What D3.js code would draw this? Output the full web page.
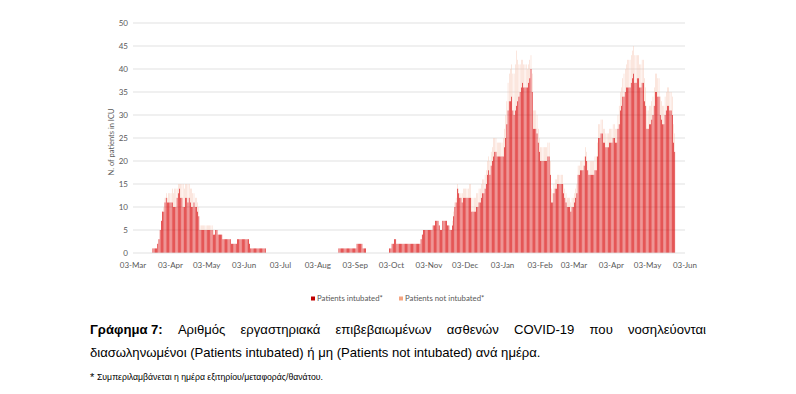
<!DOCTYPE html>
<html>
<head>
<meta charset="utf-8">
<script src="https://cdn.jsdelivr.net/npm/d3@7"></script>
<style>
  html, body { margin: 0; padding: 0; background: #ffffff; }
  svg { display: block; }
</style>
</head>
<body>
<svg id="chart" width="796" height="394"></svg>
<script>
// ---------------- DATA ----------------
const startDate = "2020-03-03";   // first day of the daily series
const endDate = "2021-06-03";     // end of the date axis
const seriesNames = ["Patients intubated*", "Patients not intubated*"];
const yTicks = [0, 5, 10, 15, 20, 25, 30, 35, 40, 45, 50];
const xTickLabels = ["03-Mar","03-Apr","03-May","03-Jun","03-Jul","03-Aug","03-Sep","03-Oct",
                     "03-Nov","03-Dec","03-Jan","03-Feb","03-Mar","03-Apr","03-May","03-Jun"];

// daily values, one per day from 03-Mar-2020
const intubated = [
  // 03-Mar .. 02-Apr 2020
  0,0,0,0,0,0,0,0,0,0, 0,0,0,0,0,0,1,1,1,1, 2,3,5,7,9,9,11,12,11,11, 11,
  // 03-Apr .. 02-May
  11,11,10,10,10,12,13,14,12,12, 10,10,12,12,11,12,11,10,10,11, 10,10,9,8,5,5,5,5,5,5,
  // 03-May .. 02-Jun
  5,5,5,5,5,4,4,5,5,4, 4,4,4,3,3,3,3,3,3,3, 2,2,2,2,2,3,3,3,3,3, 3,
  // 03-Jun .. 02-Jul
  3,3,3,3,2,1,1,1,1,1, 1,1,1,1,1,1,1,1,0,0, 0,0,0,0,0,0,0,0,0,0,
  // 03-Jul .. 02-Aug
  0,0,0,0,0,0,0,0,0,0, 0,0,0,0,0,0,0,0,0,0, 0,0,0,0,0,0,0,0,0,0, 0,
  // 03-Aug .. 02-Sep
  0,0,0,0,0,0,0,0,0,0, 0,0,0,0,0,0,0,1,1,1, 1,1,1,1,1,1,1,1,1,1, 1,
  // 03-Sep .. 02-Oct
  1,2,2,2,2,2,1,1,1,0, 0,0,0,0,0,0,0,0,0,0, 0,0,0,0,0,0,0,0,1,1,
  // 03-Oct .. 02-Nov
  2,2,3,3,2,2,2,2,2,2, 2,2,2,2,2,2,2,2,2,2, 2,2,2,2,3,4,5,5,5,5, 5,
  // 03-Nov .. 02-Dec
  5,5,5,6,6,7,7,7,6,5, 5,7,7,7,7,6,6,5,5,6, 8,10,11,14,13,12,12,11,12,12,
  // 03-Dec .. 02-Jan 2021
  12,12,12,12,12,9,9,9,9,10, 10,11,11,12,13,13,14,15,17,18, 17,19,20,21,22,22,21,21,21,21, 21,
  // 03-Jan .. 02-Feb
  21,23,25,28,31,33,33,34,31,30, 31,32,33,34,35,36,37,36,36,36, 36,37,38,40,35,27,27,27,26,24, 22,
  // 03-Feb .. 02-Mar
  20,20,20,20,20,20,21,21,17,11, 11,13,14,14,15,15,15,15,15,13, 12,11,10,10,10,9,10,10,
  // 03-Mar .. 02-Apr
  11,12,13,17,17,18,18,18,19,21, 20,18,17,17,17,17,17,18,18,21, 25,25,26,26,24,24,23,23,23,24, 24,
  // 03-Apr .. 02-May
  24,25,25,24,24,27,28,31,32,34, 34,35,36,36,36,36,37,38,39,37, 37,38,38,36,36,37,37,33,32,27,
  // 03-May .. 26-May
  27,28,28,29,30,32,35,35,34,34, 30,29,28,28,30,31,32,32,31,31, 30,24,22
];

const notIntubated = [
  // 03-Mar .. 02-Apr 2020
  0,0,0,0,0,0,0,0,0,0, 0,0,0,0,0,0,0,0,0,0, 0,0,0,0,0,1,1,1,1,2, 2,
  // 03-Apr .. 02-May
  2,3,3,4,4,2,2,1,3,3, 5,4,3,3,4,3,3,4,3,2, 2,2,2,2,1,1,1,1,1,1,
  // 03-May .. 02-Jun
  1,1,1,1,1,1,0,0,0,0, 0,0,0,0,0,0,0,0,0,0, 0,0,0,0,0,0,0,0,0,0, 0,
  // 03-Jun .. 02-Jul
  0,0,0,0,0,0,0,0,0,0, 0,0,0,0,0,0,0,0,0,0, 0,0,0,0,0,0,0,0,0,0,
  // 03-Jul .. 02-Aug
  0,0,0,0,0,0,0,0,0,0, 0,0,0,0,0,0,0,0,0,0, 0,0,0,0,0,0,0,0,0,0, 0,
  // 03-Aug .. 02-Sep
  0,0,0,0,0,0,0,0,0,0, 0,0,0,0,0,0,0,0,0,0, 0,0,0,0,0,0,0,0,0,0, 0,
  // 03-Sep .. 02-Oct
  0,0,0,0,0,0,0,0,0,0, 0,0,0,0,0,0,0,0,0,0, 0,0,0,0,0,0,0,0,0,0,
  // 03-Oct .. 02-Nov
  0,0,0,0,0,0,0,0,0,0, 0,0,0,0,0,0,0,0,0,0, 0,0,0,0,0,0,0,0,0,0, 0,
  // 03-Nov .. 02-Dec
  0,0,0,0,0,0,0,0,0,0, 0,0,0,0,0,0,0,0,0,1, 1,1,1,1,1,1,1,2,2,2,
  // 03-Dec .. 02-Jan 2021
  2,2,2,3,3,3,3,3,3,3, 3,3,3,3,3,3,3,3,3,3, 3,3,3,4,3,3,3,3,3,3, 3,
  // 03-Jan .. 02-Feb
  4,4,5,5,6,6,7,7,8,9, 10,12,9,7,6,6,5,5,5,5, 4,4,4,3,4,4,4,4,4,3, 3,
  // 03-Feb .. 02-Mar
  3,3,3,3,3,3,3,3,3,3, 2,2,2,2,2,2,2,2,2,2, 2,2,2,2,2,2,2,2,
  // 03-Mar .. 02-Apr
  2,2,2,2,2,2,2,2,2,2, 2,2,3,3,3,3,3,3,3,3, 3,3,3,3,3,3,3,3,3,3, 3,
  // 03-Apr .. 02-May
  3,3,3,3,3,3,4,4,4,4, 5,5,5,6,6,6,6,6,6,6, 6,5,5,5,5,5,5,5,4,4,
  // 03-May .. 26-May
  4,4,4,4,4,4,4,4,4,4, 4,4,4,4,4,4,4,4,4,4, 4,4,4
];

const seriesColors = ["#d80000", "#f6c3b0"];
const legendColors = ["#c00000", "#f4a582"];

// ---------------- CHART ----------------
const svg = d3.select("#chart");
const parse = d3.utcParse("%Y-%m-%d");
const t0 = parse(startDate), t1 = parse(endDate);

const rows = intubated.map((v, i) => ({
  date: d3.utcDay.offset(t0, i),
  a: v,
  b: notIntubated[i] || 0
}));

const x = d3.scaleUtc().domain([t0, t1]).range([133, 685]);
const y = d3.scaleLinear().domain([0, 50]).range([253, 23]);

// gridlines
svg.append("g").selectAll("line")
  .data(yTicks.filter(t => t > 0))
  .join("line")
  .attr("x1", 133).attr("x2", 685)
  .attr("y1", d => y(d)).attr("y2", d => y(d))
  .attr("stroke", "#d9d9d9").attr("stroke-width", 0.8);

// y labels
svg.append("g").selectAll("text")
  .data(yTicks)
  .join("text")
  .attr("x", 128).attr("y", d => y(d) + 2.8)
  .attr("text-anchor", "end")
  .attr("font-family", "Lato, 'Open Sans', sans-serif")
  .attr("font-size", 8).attr("fill", "#595959")
  .text(d => d);

// y title
svg.append("text")
  .attr("transform", `translate(114,${(y(0) + y(50)) / 2 + 4}) rotate(-90)`)
  .attr("text-anchor", "middle")
  .attr("font-family", "Lato, 'Open Sans', sans-serif")
  .attr("font-size", 7.5).attr("fill", "#595959")
  .text("N. of patients in ICU");

// stacked bars
const stack = d3.stack().keys(["a", "b"]);
const stacked = stack(rows);
const step = x(d3.utcDay.offset(t0, 1)) - x(t0);
const bws = [step * 0.55, step * 0.35];

svg.append("g").selectAll("g")
  .data(stacked)
  .join("g")
  .attr("fill", (d, i) => seriesColors[i])
  .each(function (s, si) {
    d3.select(this).selectAll("rect")
      .data(s.filter(p => p[1] - p[0] > 0))
      .join("rect")
      .attr("x", p => x(p.data.date) + step * 0.5 - bws[si] / 2)
      .attr("width", bws[si])
      .attr("y", p => y(p[1]))
      .attr("height", p => y(p[0]) - y(p[1]));
  });

// x axis line
svg.append("line")
  .attr("x1", 133).attr("x2", 685)
  .attr("y1", y(0)).attr("y2", y(0))
  .attr("stroke", "#d9d9d9").attr("stroke-width", 0.8);

// x tick labels (03 of each month)
const monthTicks = d3.utcMonth.range(d3.utcMonth.floor(t0), d3.utcMonth.offset(t1, 1))
  .map(m => d3.utcDay.offset(m, 2))
  .filter(d => d >= t0 && d <= t1);

svg.append("g").selectAll("text")
  .data(monthTicks)
  .join("text")
  .attr("x", d => x(d)).attr("y", 268)
  .attr("text-anchor", "middle")
  .attr("font-family", "Lato, 'Open Sans', sans-serif")
  .attr("font-size", 8).attr("fill", "#595959")
  .text((d, i) => xTickLabels[i]);

// legend
const legend = svg.append("g").attr("font-family", "Lato, 'Open Sans', sans-serif")
  .attr("font-size", 7.8).attr("fill", "#595959");
const legendX = [311, 399];
seriesNames.forEach((name, i) => {
  legend.append("rect")
    .attr("x", legendX[i]).attr("y", 296.5)
    .attr("width", 4).attr("height", 4)
    .attr("fill", legendColors[i]);
  legend.append("text")
    .attr("x", legendX[i] + 6).attr("y", 301.3)
    .text(name);
});

// caption (justified first line)
const capFont = "'Liberation Sans', Arial, sans-serif";
const capSize = 13.1;
const line1 = [
  {t: "Γράφημα 7:", bold: true},
  {t: "Αριθμός"}, {t: "εργαστηριακά"}, {t: "επιβεβαιωμένων"}, {t: "ασθενών"},
  {t: "COVID-19"}, {t: "που"}, {t: "νοσηλεύονται"}
];
const capLeft = 90, capRight = 706;
const cap = svg.append("g").attr("font-family", capFont).attr("font-size", capSize).attr("fill", "#000");
const nodes = line1.map(w => cap.append("text")
  .attr("y", 334)
  .attr("font-weight", w.bold ? "bold" : "normal")
  .text(w.t));
const widths = nodes.map(n => n.node().getComputedTextLength());
const gap = (capRight - capLeft - d3.sum(widths)) / (nodes.length - 1);
let cx = capLeft;
nodes.forEach((n, i) => { n.attr("x", cx); cx += widths[i] + gap; });

cap.append("text").attr("x", capLeft).attr("y", 357)
  .text("διασωληνωμένοι (Patients intubated) ή μη (Patients not intubated) ανά ημέρα.");

// footnote
svg.append("text").attr("x", 90).attr("y", 381)
  .attr("font-family", capFont).attr("font-size", 11).text("*");
svg.append("text").attr("x", 97).attr("y", 380)
  .attr("font-family", capFont).attr("font-size", 8.7)
  .text("Συμπεριλαμβάνεται η ημέρα εξιτηρίου/μεταφοράς/θανάτου.");
</script>
</body>
</html>
